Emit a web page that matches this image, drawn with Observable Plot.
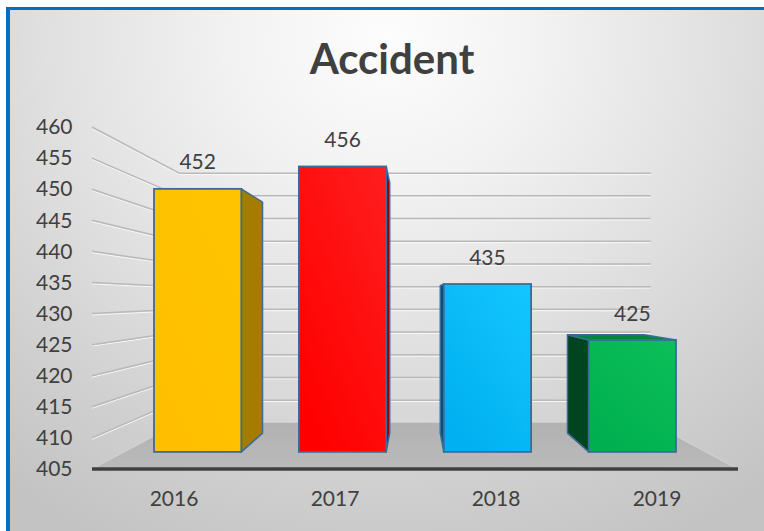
<!DOCTYPE html>
<html>
<head>
<meta charset="utf-8">
<script src="https://cdn.jsdelivr.net/npm/d3@7"></script>
<script src="https://cdn.jsdelivr.net/npm/@observablehq/plot@0.6"></script>
<style>
html, body { margin: 0; padding: 0; background: #fff; overflow: hidden; }
#wrap { position: relative; width: 764px; height: 531px; overflow: hidden; background: #fff; font-family: Lato, "Open Sans", sans-serif; }
#panel { position: absolute; left: 6px; top: 7px; width: 754px; height: 521px; box-sizing: content-box;
  border-left: 4px solid #0070C0; border-top: 3px solid #0070C0; border-right: none; border-bottom: none;
  background: radial-gradient(ellipse 620px 560px at 50% 6%, #fdfdfd 0%, #f2f2f2 25%, #e0e0e0 55%, #cfcfcf 80%, #c3c3c3 100%); }
#title { position: absolute; left: 0; width: 784px; top: 37px; text-align: center;
  font: 700 42px/42px Lato, sans-serif; color: #404040; }
#chart { position: absolute; left: 0; top: 0; width: 764px; height: 531px; overflow: hidden; }
</style>
</head>
<body>
<div id="wrap">
  <div id="panel"></div>
  <div id="chart"></div>
  <div id="title">Accident</div>
</div>
<script>
// ---- data ----
const years = ["2016", "2017", "2018", "2019"];
const accidents = [452, 456, 435, 425];
const yTicks = [405, 410, 415, 420, 425, 430, 435, 440, 445, 450, 455, 460];

// ---- styles ----
const frontTop = ["#FFC400", "#FF1E1E", "#14C6FF", "#0CBF58"];
const frontBottom = ["#FFBF00", "#FF0000", "#00B0F0", "#00B050"];
const sideColors = ["#A67C00", "#9A0000", "#0B4F75", "#00451F"];
const topColors = ["#D9A300", "#D00000", "#0A9AD0", "#00873C"];
const barStroke = "#3E6A9A";

const yDomain = [yTicks[0], yTicks[yTicks.length - 1]];

// perspective depths (1 = front plane of the axes)
const backDepth = 0.73, barFront = 0.9, barBack = 0.79;

function scene(index, scales, values, dims) {
  const x = scales.x, y = scales.y;
  const X0 = dims.marginLeft, X1 = dims.width - dims.marginRight;
  const yb = y(yDomain[0]), yt = y(yDomain[1]);
  const vx = (X0 + X1) / 2, vy = (yb + yt) / 2;
  const P = (X, Y, s) => [vx + s * (X - vx), vy + s * (Y - vy)];
  const g = d3.create("svg:g");
  const defs = g.append("defs");
  const floorGrad = defs.append("linearGradient").attr("id", "floorG").attr("x1", 0).attr("y1", 0).attr("x2", 0).attr("y2", 1);
  floorGrad.append("stop").attr("offset", 0).attr("stop-color", "#b2b2b2");
  floorGrad.append("stop").attr("offset", 1).attr("stop-color", "#bababa");
  years.forEach((yr, i) => {
    const lg = defs.append("linearGradient").attr("id", "barG" + i).attr("x1", 1).attr("y1", 0).attr("x2", 0.3).attr("y2", 1);
    lg.append("stop").attr("offset", 0).attr("stop-color", frontTop[i]);
    lg.append("stop").attr("offset", 1).attr("stop-color", frontBottom[i]);
  });
  const poly = (pts, fill, stroke, sw) => g.append("polygon")
    .attr("points", pts.map(p => p.join(",")).join(" "))
    .attr("fill", fill).attr("stroke", stroke || "none").attr("stroke-width", sw || 0)
    .attr("stroke-linejoin", "round");
  const line = (a, b, stroke, sw) => g.append("line")
    .attr("x1", a[0]).attr("y1", a[1]).attr("x2", b[0]).attr("y2", b[1])
    .attr("stroke", stroke).attr("stroke-width", sw);

  // floor
  poly([[X0, yb], [X1, yb], P(X1, yb, backDepth), P(X0, yb, backDepth)], "url(#floorG)");
  line([X0, yb], P(X0, yb, backDepth), "#d4d4d4", 1);
  line([X1, yb], P(X1, yb, backDepth), "#d4d4d4", 1);

  // gridlines on back wall and side wall
  yTicks.slice(1).forEach(v => {
    const Y = y(v);
    const a = [X0, Y], b = P(X0, Y, backDepth), c = P(X1, Y, backDepth);
    line([a[0], a[1] + 1.4], [b[0], b[1] + 1.4], "#f8f8f8", 1);
    line([b[0], b[1] + 1.4], [c[0], c[1] + 1.4], "#f8f8f8", 1);
    line(a, b, "#b9b9b9", 1.5);
    line(b, c, "#b9b9b9", 1.5);
  });

  // front edge of floor
  line([X0, yb], [X1, yb], "#404040", 3.5);

  // bars
  const bw = x.bandwidth();
  years.forEach((yr, i) => {
    const L = x(yr), R = L + bw, T = y(accidents[i]);
    const cx = (L + R) / 2;
    const sx = cx < vx ? R : L;
    poly([P(sx, T, barFront), P(sx, T, barBack), P(sx, yb, barBack), P(sx, yb, barFront)], sideColors[i], barStroke, 1.5);
    if (T > vy) poly([P(L, T, barFront), P(R, T, barFront), P(R, T, barBack), P(L, T, barBack)], topColors[i], barStroke, 1.5);
    const a = P(L, T, barFront), b = P(R, yb, barFront);
    g.append("rect").attr("x", a[0]).attr("y", a[1]).attr("width", b[0] - a[0]).attr("height", b[1] - a[1])
      .attr("fill", "url(#barG" + i + ")").attr("stroke", barStroke).attr("stroke-width", 1.8);
    g.append("text").attr("x", (a[0] + b[0]) / 2).attr("y", a[1] - 27).attr("dy", "0.36em")
      .attr("text-anchor", "middle").attr("fill", "#404040")
      .attr("font-family", "Lato, sans-serif").attr("font-size", 21)
      .text(String(accidents[i]));
  });
  return g.node();
}

const chart = Plot.plot({
  width: 764,
  height: 531,
  marginLeft: 92,
  marginRight: 26,
  marginTop: 127,
  marginBottom: 62,
  style: { background: "none", fontFamily: "Lato, sans-serif", fontSize: "21px", color: "#404040" },
  x: { type: "band", domain: years, paddingInner: 0.4, paddingOuter: 0.2, tickSize: 0, tickPadding: 22, label: null },
  y: { type: "linear", domain: yDomain, ticks: yTicks, tickSize: 0, tickPadding: 20, label: null },
  marks: [scene]
});
document.getElementById("chart").appendChild(chart);
</script>
</body>
</html>
